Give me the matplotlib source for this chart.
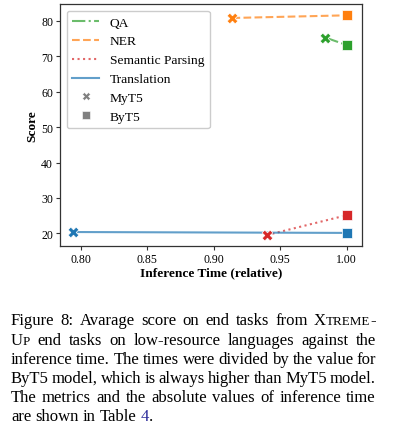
import matplotlib
matplotlib.use("Agg")
import matplotlib.pyplot as plt
from matplotlib.lines import Line2D

plt.rcParams['font.family'] = ['Liberation Serif', 'DejaVu Serif']

tasks = ["QA", "NER", "Semantic Parsing", "Translation"]
myt5_time = [0.984, 0.914, 0.940, 0.794]
myt5_score = [75.3, 80.85, 19.5, 20.35]
byt5_time = [1.0, 1.0, 1.0, 1.0]
byt5_score = [73.2, 81.6, 25.1, 20.1]
colors = ["#2ca02c", "#ff7f0e", "#d62728", "#1f77b4"]
styles = ["-.", "--", ":", "-"]
x_ticks = [0.80, 0.85, 0.90, 0.95, 1.00]
y_ticks = [20, 30, 40, 50, 60, 70, 80]

W, H = 394, 431
fig = plt.figure(figsize=(W / 100, H / 100), dpi=100)
ax = fig.add_axes([60 / W, 1 - 247 / H, 302 / W, 242 / H])

for i, t in enumerate(tasks):
    ax.plot([myt5_time[i], byt5_time[i]], [myt5_score[i], byt5_score[i]],
            color=colors[i], ls=styles[i], lw=1.5, alpha=0.7, zorder=2)
for i, t in enumerate(tasks):
    ax.scatter([myt5_time[i]], [myt5_score[i]], marker='X', s=60, color=colors[i],
               edgecolor='white', linewidth=0.5, zorder=3)
    ax.scatter([byt5_time[i]], [byt5_score[i]], marker='s', s=55, color=colors[i],
               edgecolor='white', linewidth=0.5, zorder=3)

ax.set_xlim(0.7842, 1.0115)
ax.set_ylim(16.4, 84.8)
ax.set_xticks(x_ticks)
ax.set_xticklabels([f"{v:.2f}" for v in x_ticks])
ax.set_yticks(y_ticks)
ax.tick_params(labelsize=8.5, length=3, width=0.8, color='#333333', pad=2)
for s in ax.spines.values():
    s.set_color('#333333')
    s.set_linewidth(0.9)
ax.set_xlabel("Inference Time (relative)", fontsize=9.6, fontweight='bold', labelpad=1)
ax.set_ylabel("Score", fontsize=9.6, fontweight='bold', labelpad=2)

handles = [Line2D([0], [0], color=colors[i], ls=styles[i], lw=1.5, alpha=0.7) for i in range(4)]
handles.append(Line2D([0], [0], marker='X', color='gray', ls='none', markersize=6,
                      markeredgecolor='white', markeredgewidth=0.4))
handles.append(Line2D([0], [0], marker='s', color='gray', ls='none', markersize=6,
                      markeredgecolor='white', markeredgewidth=0.4))
ax.legend(handles, tasks + ["MyT5", "ByT5"], loc='upper left', fontsize=9.7,
          framealpha=1, edgecolor='#cccccc', labelspacing=0.48, borderaxespad=0.5)

# ---- caption ----
cap_size = 12.0
sc = 0.78
blue = "#2a2a9a"
lines = [
    [[("Figure", 1)], [("8:", 1)], [("Avarage", 1)], [("score", 1)], [("on", 1)], [("end", 1)],
     [("tasks", 1)], [("from", 1)], [("X", 1), ("TREME", sc), ("-", 1)]],
    [[("U", 1), ("P", sc)], [("end", 1)], [("tasks", 1)], [("on", 1)], [("low-resource", 1)],
     [("languages", 1)], [("against", 1)], [("the", 1)]],
    [[(w, 1)] for w in "inference time. The times were divided by the value for".split()],
    [[(w, 1)] for w in "ByT5 model, which is always higher than MyT5 model.".split()],
    [[(w, 1)] for w in "The metrics and the absolute values of inference time".split()],
    [[("are", 1)], [("shown", 1)], [("in", 1)], [("Table", 1)], [("4", 1, blue), (".", 1)]],
]

renderer = fig.canvas.get_renderer()
x0, x1 = 11, 376
base0 = 325.5
step = 19.2


def seg_width(txt, f):
    t = fig.text(0, 0, txt, fontsize=cap_size * f)
    w = t.get_window_extent(renderer).width
    t.remove()
    return w


space_w = seg_width("a a", 1) - seg_width("aa", 1)
for li, tokens in enumerate(lines):
    widths = []
    for tok in tokens:
        widths.append(sum(seg_width(s[0], s[1]) for s in tok))
    y = base0 + li * step
    if li < len(lines) - 1:
        gap = (x1 - x0 - sum(widths)) / (len(tokens) - 1)
    else:
        gap = space_w
    x = x0
    for tok, w in zip(tokens, widths):
        xx = x
        for s in tok:
            col = s[2] if len(s) > 2 else 'black'
            fig.text(xx / W, 1 - y / H, s[0], fontsize=cap_size * s[1], color=col,
                     va='baseline', ha='left')
            xx += seg_width(s[0], s[1])
        x += w + gap

fig.savefig("out.png", dpi=100)
